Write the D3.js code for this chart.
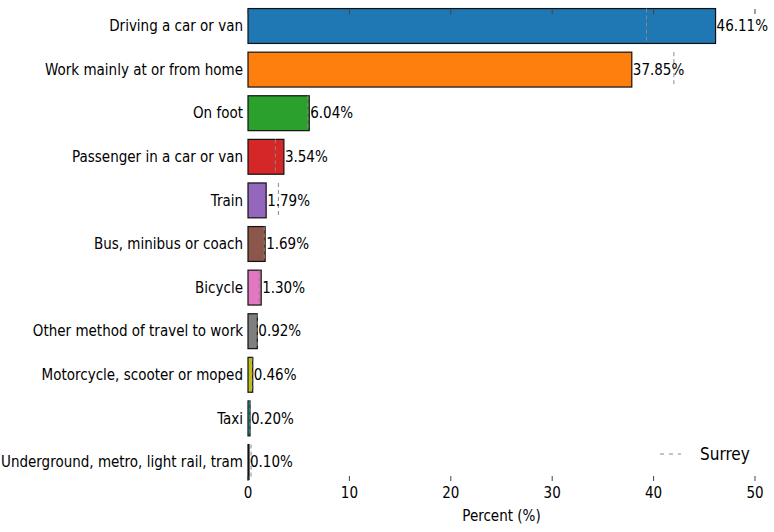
<!DOCTYPE html>
<html><head><meta charset="utf-8">
<script src="https://cdn.jsdelivr.net/npm/d3@7"></script>
<style>body{margin:0;background:#fff}text{font-family:"Liberation Sans Narrow","DejaVu Sans Condensed",sans-serif}</style>
</head><body><svg id="svg" width="774" height="532"></svg>
<script>
// travel to work modes, local share vs Surrey
let categories = ["Driving a car or van", "Work mainly at or from home", "On foot", "Passenger in a car or van", "Train", "Bus, minibus or coach", "Bicycle", "Other method of travel to work", "Motorcycle, scooter or moped", "Taxi", "Underground, metro, light rail, tram"];
let values = [46.11, 37.85, 6.04, 3.54, 1.79, 1.69, 1.30, 0.92, 0.46, 0.20, 0.10];
let surrey = [39.3, 42.0, 5.9, 2.7, 3.0, 1.6, 1.1, 0.9, 0.5, 0.2, 0.3];
let xTicks = [0, 10, 20, 30, 40, 50];

let svg = d3.select("#svg");
let x = d3.scaleLinear().domain([0, 50]).range([248, 755]);
let y = d3.scaleBand().domain(categories).range([4.2, 483.8]).paddingInner(0.2).paddingOuter(0.1);
let color = d3.scaleOrdinal(d3.schemeCategory10);

// bars
svg.selectAll("rect.bar").data(values).enter().append("rect")
  .attr("x", x(0)).attr("y", (d, i) => y(categories[i]))
  .attr("width", d => x(d) - x(0)).attr("height", y.bandwidth())
  .style("fill", (d, i) => color(i)).style("stroke", "#111").style("stroke-width", 1.2);

// surrey dashed markers
svg.selectAll("line.sur").data(surrey).enter().append("line")
  .attr("x1", d => x(d)).attr("x2", d => x(d))
  .attr("y1", (d, i) => y(categories[i])).attr("y2", (d, i) => y(categories[i]) + y.bandwidth())
  .style("stroke", "#888").style("stroke-width", 1).style("stroke-dasharray", "4,3");

// value labels
svg.selectAll("text.val").data(values).enter().append("text")
  .attr("x", d => x(d) + 1).attr("y", (d, i) => y(categories[i]) + y.bandwidth() / 2)
  .attr("dy", "0.35em").style("font-size", "15px")
  .text(d => d.toFixed(2) + "%");

// category labels
svg.selectAll("text.cat").data(categories).enter().append("text")
  .attr("x", 243).attr("y", d => y(d) + y.bandwidth() / 2)
  .attr("dy", "0.35em").attr("text-anchor", "end").style("font-size", "15px")
  .text(d => d);

// x ticks bottom and top
xTicks.forEach(t => {
  svg.append("line").attr("x1", x(t)).attr("x2", x(t)).attr("y1", 476).attr("y2", 481).style("stroke", "#444");
  svg.append("line").attr("x1", x(t)).attr("x2", x(t)).attr("y1", 9).attr("y2", 14).style("stroke", "#444");
  svg.append("text").attr("x", x(t)).attr("y", 498).attr("text-anchor", "middle").style("font-size", "15px").text(t);
});
svg.append("text").attr("x", x(25)).attr("y", 521).attr("text-anchor", "middle").style("font-size", "15px").text("Percent (%)");

// legend
svg.append("line").attr("x1", 660).attr("x2", 681).attr("y1", 454).attr("y2", 454)
  .style("stroke", "#888").style("stroke-dasharray", "4,5");
svg.append("text").attr("x", 700).attr("y", 454).attr("dy", "0.35em").style("font-size", "17px").text("Surrey");
</script></body></html>
